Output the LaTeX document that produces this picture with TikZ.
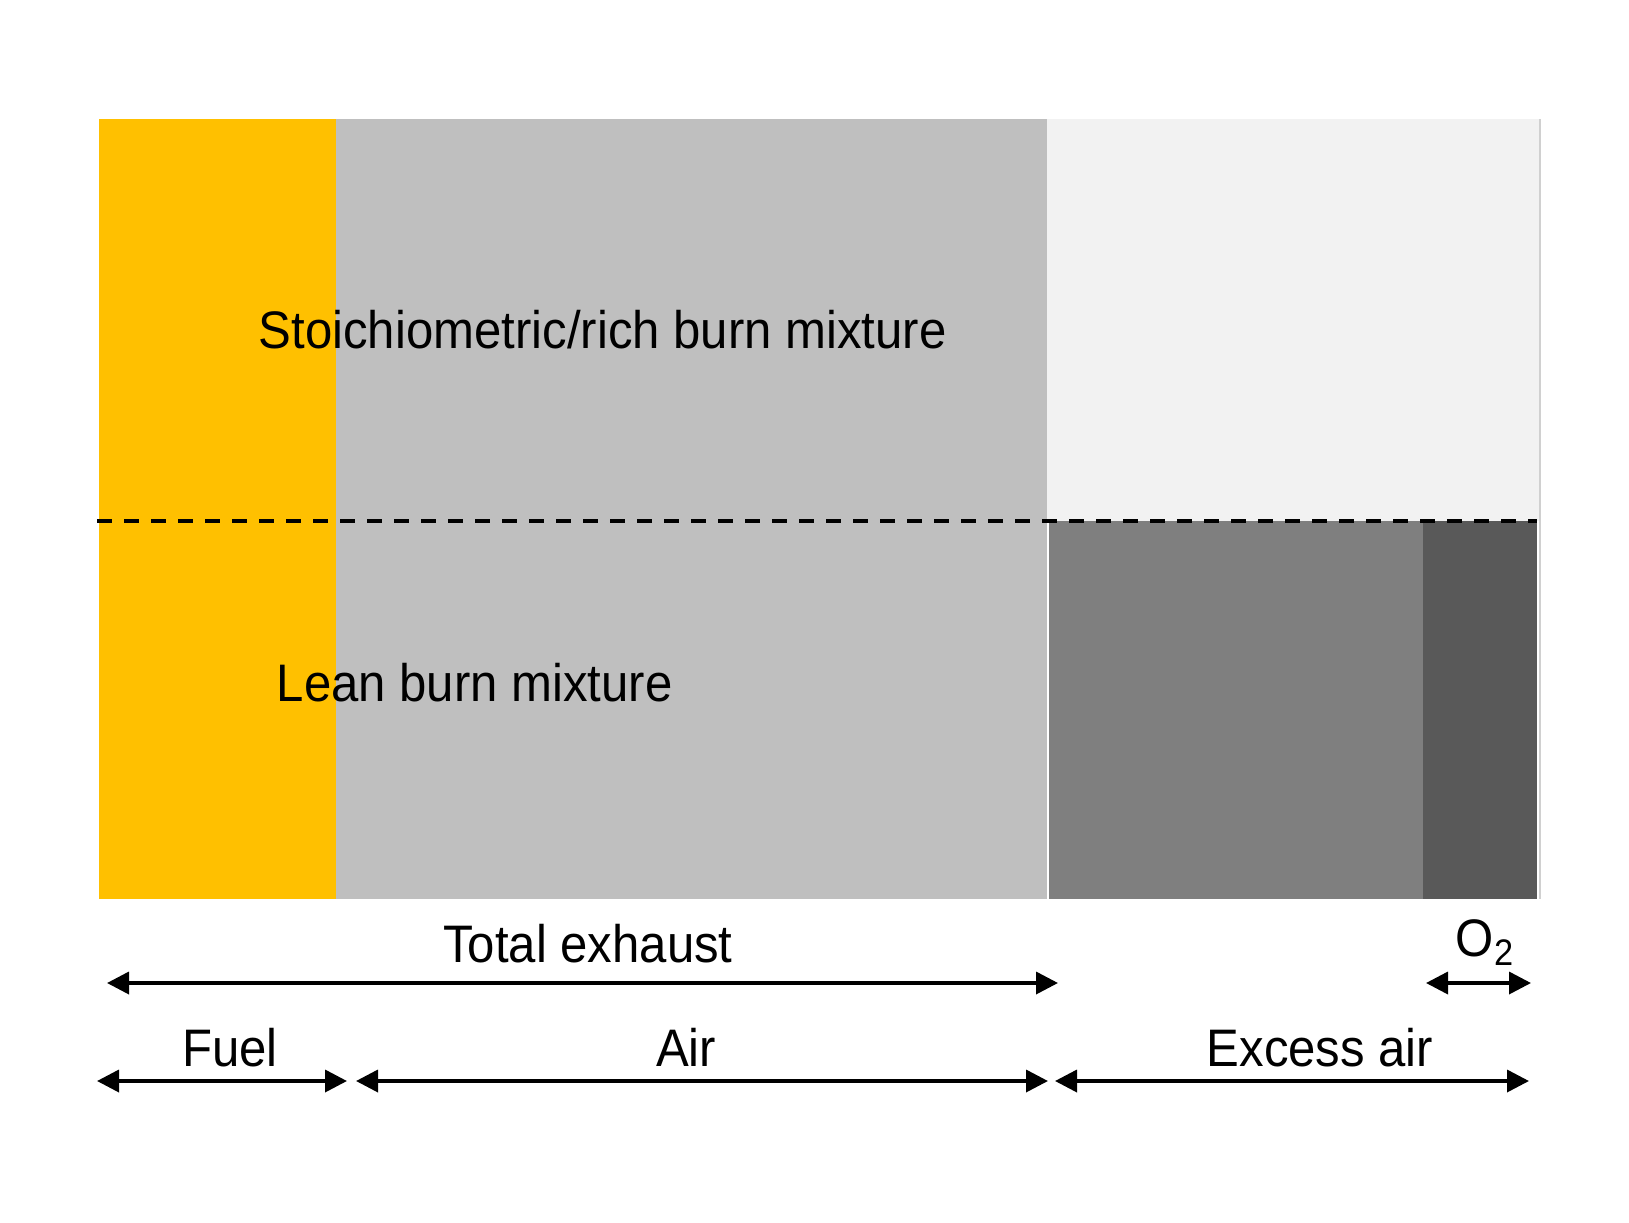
\documentclass[tikz,border=0pt]{standalone}
\usepackage{fontspec}
\setmainfont{Liberation Sans}[FakeStretch=0.93]
\usetikzlibrary{arrows.meta}

\definecolor{fuelyellow}{HTML}{FFC000}
\definecolor{airgray}{HTML}{BFBFBF}
\definecolor{emptygray}{HTML}{F2F2F2}
\definecolor{excessgray}{HTML}{7F7F7F}
\definecolor{oxygray}{HTML}{595959}
\definecolor{edgegray}{HTML}{D0D0D0}

\tikzset{
  span/.style={{Triangle[length=5.5pt,width=5.5pt]}-{Triangle[length=5.5pt,width=5.5pt]}, line width=0.9pt},
  lbl/.style={inner sep=0pt, anchor=base, font=\fontsize{13.2}{15}\selectfont},
}

\begin{document}
\begin{tikzpicture}[x=0.25pt,y=-0.25pt]
  \useasboundingbox (0,0) rectangle (1629,1222);
  % bars
  \fill[fuelyellow] (99,119) rectangle (336,899);
  \fill[airgray] (336,119) rectangle (1047,899);
  \fill[emptygray] (1047,119) rectangle (1540,521);
  \fill[excessgray] (1049,521) rectangle (1423,899);
  \fill[oxygray] (1423,521) rectangle (1537,899);
  \draw[edgegray, line width=0.4pt] (1540,119) -- (1540,899);
  \draw[line width=1pt, dash pattern=on 3.75pt off 3pt] (97,521) -- (1537,521);
  \node[lbl, anchor=base west] (rich) at (258,348) {Stoichiometric/rich burn mixture};
  \node[lbl, anchor=base west] (lean) at (276,701) {Lean burn mixture};
  % spans
  \coordinate (tot-l) at (107,983);
  \coordinate (tot-r) at (1058,983);
  \coordinate (oxy-l) at (1426,983);
  \coordinate (oxy-r) at (1531,983);
  \coordinate (fuel-l) at (97,1081);
  \coordinate (fuel-r) at (347,1081);
  \coordinate (air-l) at (356,1081);
  \coordinate (air-r) at (1048,1081);
  \coordinate (exc-l) at (1055,1081);
  \coordinate (exc-r) at (1529,1081);
  \draw[span] (tot-l) -- (tot-r);
  \draw[span] (oxy-l) -- (oxy-r);
  \draw[span] (fuel-l) -- (fuel-r);
  \draw[span] (air-l) -- (air-r);
  \draw[span] (exc-l) -- (exc-r);
  \node[lbl] (total) at (588,962) {Total exhaust};
  \node[lbl, anchor=base west] (oxy) at (1455,956) {O\textsubscript{2}};
  \node[lbl] (fuel) at (230,1066) {Fuel};
  \node[lbl] (air) at (686,1066) {Air};
  \node[lbl] (excess) at (1320,1066) {Excess air};
\end{tikzpicture}
\end{document}
